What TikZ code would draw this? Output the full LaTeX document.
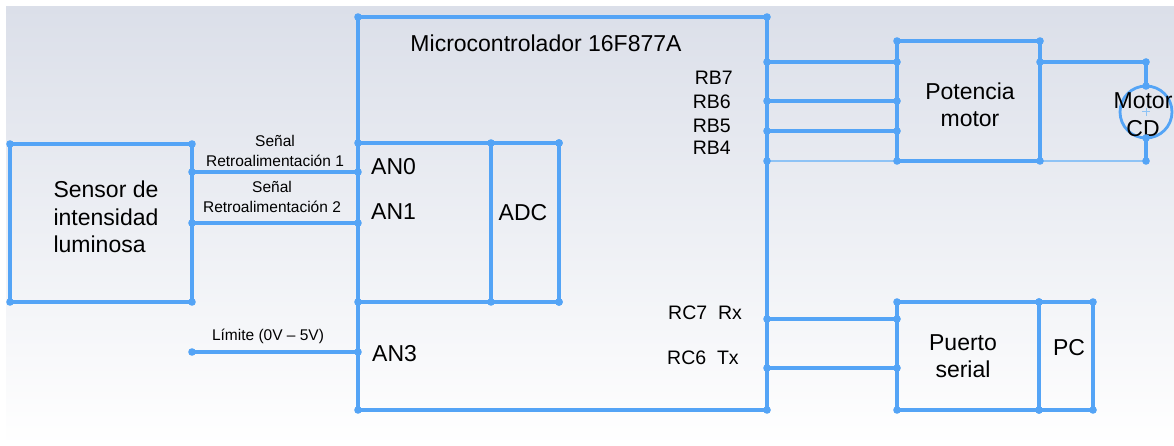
\documentclass[tikz,border=0pt]{standalone}
\usepackage{fontspec}
\setmainfont{Liberation Sans}
\usetikzlibrary{positioning}
\definecolor{wireblue}{RGB}{84,164,246}
\definecolor{wirelight}{RGB}{142,195,245}
\definecolor{bgtop}{RGB}{219,223,233}

\begin{document}
\begin{tikzpicture}[x=1pt,y=-1pt,
  blk/.style={draw=wireblue,line width=3.3pt,outer sep=0pt,inner sep=0pt,rectangle},
  wire/.style={draw=wireblue,line width=3.3pt},
  thinwire/.style={draw=wirelight,line width=2.6pt},
  big/.style={font=\fontsize{23}{27.5}\selectfont,inner sep=0pt,align=center},
  pinlbl/.style={font=\fontsize{19.5}{23}\selectfont,inner sep=0pt},
  small/.style={font=\fontsize{15.5}{20}\selectfont,inner sep=0pt,align=center}]
\useasboundingbox (0,0) rectangle (1174,446);
\shade[top color=bgtop,bottom color=white] (6,7) rectangle (1174,446);

% blocks
\node[blk,minimum width=409,minimum height=393] (mcu) at (562.5,213.5) {};
\node[big] (mcutitle) at (546,43) {Microcontrolador 16F877A};
\node[blk,minimum width=201,minimum height=159] (anblk) at (458.5,222.5) {};
\node[blk,minimum width=68,minimum height=159,label={[big,xshift=-2pt,yshift=9.5pt]center:ADC}] (adc) at (525,222.5) {};
\node[blk,minimum width=182,minimum height=158,label={[big,align=left,xshift=5pt,yshift=6pt]center:Sensor de\\intensidad\\luminosa}] (sensor) at (101,223) {};
\node[blk,minimum width=143,minimum height=120,label={[big,xshift=1.5pt,yshift=-4pt]center:Potencia\\motor}] (pot) at (968.5,101) {};
\node[blk,minimum width=142,minimum height=108,label={[big,xshift=-5pt]center:Puerto\\serial}] (serial) at (968,356) {};
\node[blk,minimum width=54,minimum height=108,label={[big,xshift=3pt,yshift=8pt]center:PC}] (pc) at (1066,356) {};
\node[circle,draw=wireblue,line width=2.8pt,minimum size=52,inner sep=0pt,outer sep=0pt] (motor) at (1146,112) {};
\draw[wirelight,line width=1pt] (motor.center) +(-4,0) -- +(4,0) +(0,-4) -- +(0,4);
\node[big] (motortxt) at (1143,114.5) {Motor\\CD};

% pins on the microcontroller
\coordinate (an0) at (358,172);
\coordinate (an1) at (358,223);
\coordinate (an3) at (358,352);
\coordinate (lim) at (192,352);
\coordinate (rb7) at (767,62);
\coordinate (rb6) at (767,101);
\coordinate (rb5) at (767,131);
\coordinate (rb4) at (767,161);
\coordinate (rx) at (767,319);
\coordinate (tx) at (767,368);
\coordinate (mot) at (1146,62);
\coordinate (motb) at (1146,161);

\node[big,anchor=west] (lan0) at (371,167) {AN0};
\node[big,anchor=west] (lan1) at (371,212) {AN1};
\node[big,anchor=west] (lan3) at (372,354) {AN3};
\node[pinlbl,anchor=east] (lrb7) at (733,78) {RB7};
\node[pinlbl,anchor=east] (lrb6) at (731,102) {RB6};
\node[pinlbl,anchor=east] (lrb5) at (731,126) {RB5};
\node[pinlbl,anchor=east] (lrb4) at (731,148) {RB4};
\node[pinlbl,anchor=west] (lrx) at (668,313) {RC7~~Rx};
\node[pinlbl,anchor=west] (ltx) at (667,358) {RC6~~Tx};

% connectors
\draw[wire] (sensor.east|-an0) -- (an0) node[small,midway,above=4pt] (sig1) {Señal\\Retroalimentación 1};
\draw[wire] (sensor.east|-an1) -- (an1) node[small,midway,above=9pt,xshift=-3pt] (sig2) {Señal\\Retroalimentación 2};
\draw[wire] (lim) -- (an3) node[small,midway,above=7pt,xshift=-7pt] (limlbl) {Límite (0V – 5V)};
\foreach \p in {rb7,rb6,rb5}
  \draw[wire] (\p) -- (pot.west|-\p);
\draw[thinwire] (rb4) -- (pot.south west);
\draw[wire] (pot.east|-mot) -- (mot) -- (motor.north);
\draw[wire] (motor.south) -- (motb);
\draw[thinwire] (motb) -- (pot.south east);
\draw[wire] (rx) -- (serial.west|-rx);
\draw[wire] (tx) -- (serial.west|-tx);

% junction dots
\foreach \b in {mcu,anblk,adc,sensor,pot,serial,pc}
  \foreach \a in {north west,north east,south west,south east}
    \fill[wireblue] (\b.\a) circle (3.8pt);
\foreach \p in {an0,an1,an3,lim,rb7,rb6,rb5,rb4,rx,tx,mot,motb,motor.north,motor.south,
  sensor.east|-an0,sensor.east|-an1,pot.west|-rb7,pot.west|-rb6,pot.west|-rb5,pot.east|-mot,
  serial.west|-rx,serial.west|-tx}
  \fill[wireblue] (\p) circle (3.8pt);
\end{tikzpicture}
\end{document}
